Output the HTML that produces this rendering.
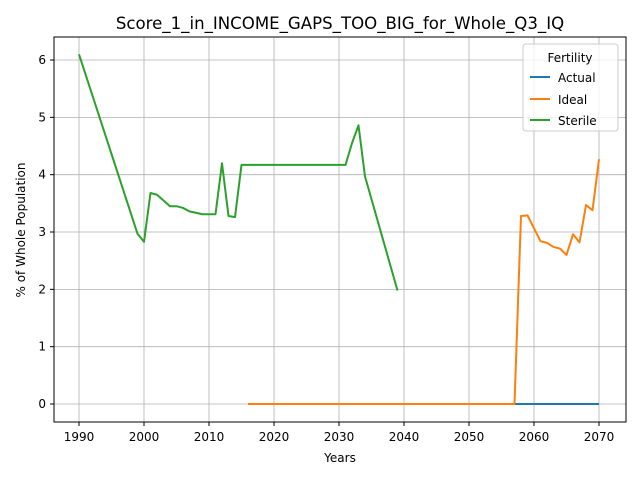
<!DOCTYPE html>
<html><head><meta charset="utf-8"><style>
body{margin:0;background:#fff;font-family:"Liberation Sans","DejaVu Sans",sans-serif;}
text{font-family:"DejaVu Sans","Liberation Sans",sans-serif;}
</style></head><body>
<svg id="chart" width="640" height="480" xmlns="http://www.w3.org/2000/svg">
<rect width="640" height="480" fill="#fff"/>
<text x="340" y="29" text-anchor="middle" font-size="16.6">Score_1_in_INCOME_GAPS_TOO_BIG_for_Whole_Q3_IQ</text>
<g id="grid"></g>
<g id="series"></g>
<rect x="54" y="37" width="572" height="385" fill="none" stroke="#000" stroke-width="1"/>
<g id="axes"></g>
<text x="340" y="462" text-anchor="middle" font-size="12">Years</text>
<text transform="translate(25,230) rotate(-90)" text-anchor="middle" font-size="12">% of Whole Population</text>
<g>
<rect x="523" y="44" width="95" height="87" rx="3" fill="#fff" fill-opacity="0.8" stroke="#ccc"/>
<text x="570" y="62" text-anchor="middle" font-size="12">Fertility</text>
<g><line x1="530" y1="77" x2="550" y2="77" stroke="#1f77b4" stroke-width="2"/><text x="558" y="82" font-size="12">Actual</text></g>
<g><line x1="530" y1="99" x2="550" y2="99" stroke="#ff7f0e" stroke-width="2"/><text x="558" y="104" font-size="12">Ideal</text></g>
<g><line x1="530" y1="120" x2="550" y2="120" stroke="#2ca02c" stroke-width="2"/><text x="558" y="125" font-size="12">Sterile</text></g>
</g>
</svg>
<script>
const xTicks=[1990,2000,2010,2020,2030,2040,2050,2060,2070];
const yTicks=[0,1,2,3,4,5,6];
const actualYears=[2052,2053,2054,2055,2056,2057,2058,2059,2060,2061,2062,2063,2064,2065,2066,2067,2068,2069,2070];
const actualValues=[0,0,0,0,0,0,0,0,0,0,0,0,0,0,0,0,0,0,0];
const idealYears=[2016,2020,2030,2040,2050,2057,2058,2059,2061,2062,2063,2064,2065,2066,2067,2068,2069,2070];
const idealValues=[0,0,0,0,0,0,3.28,3.29,2.84,2.81,2.74,2.71,2.6,2.96,2.82,3.47,3.38,4.27];
const sterileYears=[1990,1999,2000,2001,2002,2004,2005,2006,2007,2009,2011,2012,2013,2014,2015,2031,2032,2033,2034,2039];
const sterileValues=[6.1,2.97,2.83,3.68,3.65,3.45,3.45,3.42,3.36,3.31,3.31,4.2,3.28,3.26,4.17,4.17,4.55,4.86,3.97,1.98];
const NS='http://www.w3.org/2000/svg';
const xS=v=>79+(v-1990)*6.5;
const yS=v=>404-v*57.33;
function mk(t,a,p){const e=document.createElementNS(NS,t);for(const k in a)e.setAttribute(k,a[k]);p.appendChild(e);return e;}
const grid=document.getElementById('grid'),axes=document.getElementById('axes'),ser=document.getElementById('series');
xTicks.forEach(t=>{
 const g=mk('line',{x1:xS(t),x2:xS(t),y1:37,y2:422,stroke:'#b0b0b0','stroke-width':0.8},grid);
 
 
 mk('line',{x1:xS(t),x2:xS(t),y1:422,y2:426,stroke:'#000'},axes);
 const l=mk('text',{x:xS(t),y:441,'text-anchor':'middle','font-size':12},axes);l.textContent=t;
 
 
});
yTicks.forEach(t=>{
 const g=mk('line',{x1:54,x2:626,y1:yS(t),y2:yS(t),stroke:'#b0b0b0','stroke-width':0.8},grid);
 
 
 mk('line',{x1:50,x2:54,y1:yS(t),y2:yS(t),stroke:'#000'},axes);
 const l=mk('text',{x:46,y:yS(t)+4,'text-anchor':'end','font-size':12},axes);l.textContent=t;
 
 
});
function line(xs,ys,c,name){
 const p=mk('polyline',{points:xs.map((x,i)=>xS(x)+','+yS(ys[i])).join(' '),fill:'none',stroke:c,'stroke-width':2,'stroke-linejoin':'round'},ser);
 
 
}
line(actualYears,actualValues,'#1f77b4','actual-line');
line(idealYears,idealValues,'#ff7f0e','ideal-line');
line(sterileYears,sterileValues,'#2ca02c','sterile-line');
</script>
</body></html>
